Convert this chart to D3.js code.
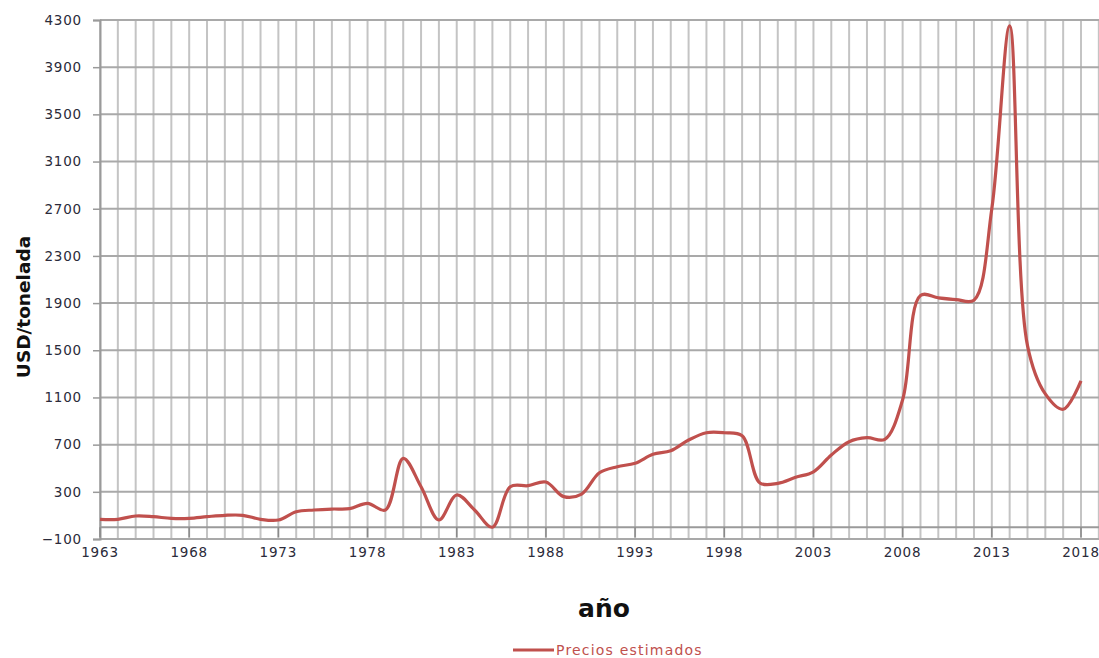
<!DOCTYPE html>
<html lang="es">
<head>
<meta charset="UTF-8">
<script src="https://d3js.org/d3.v7.min.js"></script>
<title>Precios estimados</title>
<style>
  body { margin: 0; background: #fff; }
  text { font-family: "DejaVu Sans", Verdana, sans-serif; }
</style>
</head>
<body>
<script>
// data
var years = d3.range(1963, 2019);
var precios = [67, 67, 95, 89, 75, 75, 89, 101, 101, 67,
               61, 131, 146, 154, 157, 202, 146, 584, 343, 61,
               273, 146, 0, 343, 352, 383, 259, 281, 462, 513,
               542, 618, 648, 739, 801, 801, 775, 375, 372, 423,
               470, 612, 725, 759, 745, 1080, 1965, 1945, 1930, 1925,
               2700, 4250, 1540, 1130, 1000, 1240];
var yTicks = d3.range(-100, 4301, 400);
var xTicks = d3.range(1963, 2019, 5);

var W = 1099, H = 658;
var svg = d3.select("body").append("svg").attr("width", W).attr("height", H);

var x = d3.scaleLinear().domain([1963, 2018]).range([100, 1081]);
var y = d3.scaleLinear().domain([-100, 4300]).range([539, 20]);

// vertical grid, one per year (runs past the right edge)
svg.append("g").selectAll("line").data(d3.range(1963, 2021)).join("line")
   .attr("x1", d => x(d)).attr("x2", d => x(d))
   .attr("y1", y(4300)).attr("y2", y(-100))
   .attr("stroke", "#c4c4c4").attr("stroke-width", 2);

// horizontal grid
svg.append("g").selectAll("line").data(yTicks).join("line")
   .attr("x1", x(1963)).attr("x2", W + 5)
   .attr("y1", d => y(d)).attr("y2", d => y(d))
   .attr("stroke", "#a9a9a9").attr("stroke-width", 2);

// y axis
var yAxis = svg.append("g").attr("transform", "translate(" + x(1963) + ",0)")
   .call(d3.axisLeft(y).tickValues(yTicks).tickSize(7).tickPadding(11).tickFormat(d3.format("d")));
yAxis.select(".domain").attr("stroke", "#9a9a9a").attr("stroke-width", 2);
yAxis.selectAll(".tick line").attr("stroke", "#9a9a9a").attr("stroke-width", 1.5);
yAxis.selectAll("text").attr("font-size", 13.5).attr("fill", "#2b2b3a")
   .attr("font-family", "DejaVu Sans").style("letter-spacing", "0.8px");

// x axis line crosses at 0, labels at the bottom
svg.append("line").attr("x1", x(1963)).attr("x2", W + 5)
   .attr("y1", y(0)).attr("y2", y(0))
   .attr("stroke", "#9a9a9a").attr("stroke-width", 2);
svg.append("g").selectAll("line").data(xTicks).join("line")
   .attr("x1", d => x(d)).attr("x2", d => x(d))
   .attr("y1", y(0)).attr("y2", y(0) + 10)
   .attr("stroke", "#8a8a8a").attr("stroke-width", 1.5);
svg.append("g").selectAll("text").data(xTicks).join("text")
   .attr("x", d => x(d)).attr("y", 557)
   .attr("text-anchor", "middle").attr("font-size", 13.5).attr("fill", "#2b2b3a")
   .style("letter-spacing", "0.8px")
   .text(d => d);

// the series, smoothed
var line = d3.line()
   .x((d, i) => x(years[i]))
   .y(d => y(d))
   .curve(d3.curveCatmullRom.alpha(0.5));
svg.append("path").datum(precios)
   .attr("d", line)
   .attr("fill", "none").attr("stroke", "#c0504d").attr("stroke-width", 3.2)
   .attr("stroke-linejoin", "round");

// axis titles
svg.append("text").attr("transform", "translate(30,307) rotate(-90)")
   .attr("text-anchor", "middle").attr("font-size", 18.5).attr("font-weight", "bold")
   .attr("fill", "#111").text("USD/tonelada");
svg.append("text").attr("x", 604).attr("y", 617)
   .attr("text-anchor", "middle").attr("font-size", 25).attr("font-weight", "bold")
   .attr("fill", "#111").text("año");

// legend
var lg = svg.append("g").attr("transform", "translate(513,650)");
lg.append("line").attr("x1", 0).attr("x2", 41).attr("y1", 0).attr("y2", 0)
   .attr("stroke", "#c0504d").attr("stroke-width", 3.2);
lg.append("text").attr("x", 43).attr("y", 5).attr("font-size", 14)
   .attr("fill", "#c0504d").style("letter-spacing", "1.2px").text("Precios estimados");
</script>
</body>
</html>
